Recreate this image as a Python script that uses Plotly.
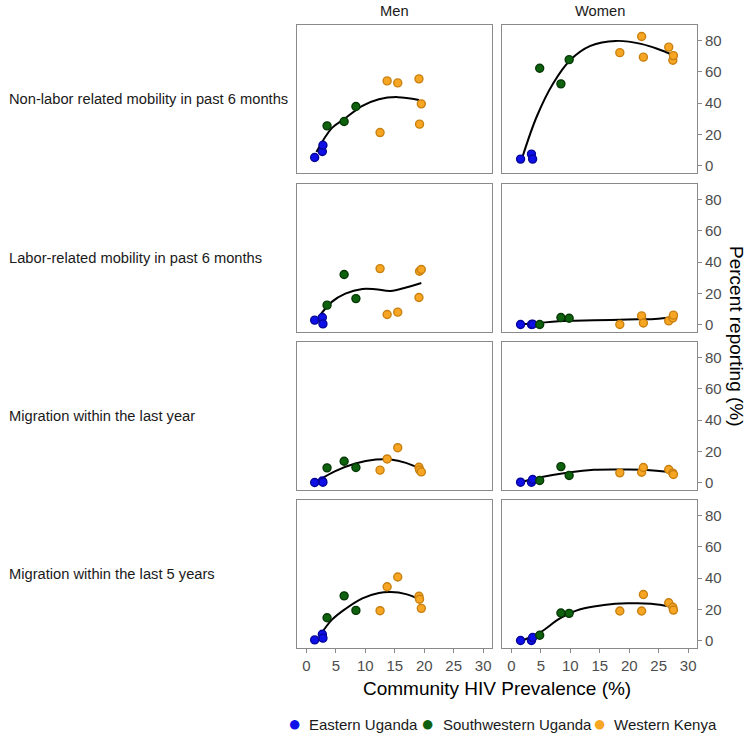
import plotly.graph_objects as go

# community prevalence (%) by sex and region
men_east_x = [1.4, 2.7, 2.8]
men_sw_x = [3.5, 6.4, 8.4]
men_wk_x = [12.5, 13.7, 15.5, 19.1, 19.2, 19.5]
women_east_x = [1.55, 3.4, 3.6]
women_sw_x = [4.8, 8.4, 9.8]
women_wk_x = [18.4, 22.1, 22.4, 26.7, 27.4, 27.5]

outcomes = ["Non-labor related mobility in past 6 months",
            "Labor-related mobility in past 6 months",
            "Migration within the last year",
            "Migration within the last 5 years"]
sexes = ["Men", "Women"]
regions = ["Eastern Uganda", "Southwestern Uganda", "Western Kenya"]

# percent reporting, one list per outcome / sex / region
nonlabor_men_east = [5.1, 9.0, 13.0]
nonlabor_men_sw = [25.4, 28.2, 37.8]
nonlabor_men_wk = [21.1, 54.2, 52.9, 55.5, 26.5, 39.5]
nonlabor_women_east = [4.1, 7.3, 4.1]
nonlabor_women_sw = [62.3, 52.3, 67.8]
nonlabor_women_wk = [72.3, 82.6, 69.4, 75.8, 67.4, 70.4]

labor_men_east = [2.8, 4.5, 0.4]
labor_men_sw = [12.4, 32.0, 16.6]
labor_men_wk = [35.8, 6.4, 7.9, 17.3, 34.1, 35.2]
labor_women_east = [0.0, 0.0, 0.2]
labor_women_sw = [0.0, 4.5, 4.0]
labor_women_wk = [0.0, 5.5, 1.0, 2.3, 4.2, 6.0]

mig1_men_east = [0.0, 1.0, 0.2]
mig1_men_sw = [9.4, 13.6, 9.6]
mig1_men_wk = [7.9, 15.1, 22.3, 9.8, 8.1, 6.8]
mig1_women_east = [0.2, 0.2, 1.9]
mig1_women_sw = [1.3, 10.2, 4.5]
mig1_women_wk = [6.2, 6.6, 9.6, 8.3, 6.0, 5.1]

mig5_men_east = [0.4, 4.0, 1.5]
mig5_men_sw = [14.6, 28.6, 19.3]
mig5_men_wk = [19.1, 34.4, 40.7, 28.3, 26.4, 20.6]
mig5_women_east = [0.0, 0.0, 1.9]
mig5_women_sw = [3.4, 17.6, 17.4]
mig5_women_wk = [18.9, 18.9, 29.5, 24.2, 21.3, 19.5]

# smoothed curves
nonlabor_men_fit_x = [1.7, 4.3, 6.6, 9.5, 12.3, 15.5, 19.1]
nonlabor_men_fit_y = [8.6, 23.9, 30.3, 38.2, 42.5, 43.8, 42.0]
nonlabor_women_fit_x = [1.9, 4.3, 7.1, 10.0, 13.4, 17.7, 22.0, 26.9, 27.5]
nonlabor_women_fit_y = [5.8, 31.4, 52.7, 67.6, 76.6, 79.8, 77.9, 71.5, 70.0]
labor_men_fit_x = [2.1, 4.3, 6.6, 9.5, 11.7, 14.3, 16.9, 19.5]
labor_men_fit_y = [4.9, 14.5, 19.8, 22.8, 22.6, 21.5, 23.7, 26.6]
labor_women_fit_x = [1.9, 4.5, 9.6, 14.0, 19.7, 24.3, 27.5]
labor_women_fit_y = [0.2, 1.0, 2.4, 2.7, 3.2, 3.6, 4.7]
mig1_men_fit_x = [2.3, 4.9, 8.3, 11.8, 14.3, 16.9, 19.3]
mig1_men_fit_y = [1.9, 7.3, 12.2, 14.7, 14.7, 12.6, 9.0]
mig1_women_fit_x = [1.9, 4.5, 10.0, 14.0, 18.6, 22.6, 27.5]
mig1_women_fit_y = [0.5, 3.0, 6.6, 8.1, 8.3, 8.1, 6.2]
mig5_men_fit_x = [2.3, 4.3, 6.6, 9.5, 12.3, 14.3, 16.9, 19.1]
mig5_men_fit_y = [3.2, 13.2, 20.2, 27.0, 30.4, 31.0, 29.7, 26.5]
mig5_women_fit_x = [1.9, 4.9, 8.3, 11.7, 15.7, 19.7, 23.7, 27.2]
mig5_women_fit_y = [0.0, 5.3, 14.3, 20.0, 22.7, 23.8, 23.6, 21.6]

x_ticks = [0, 5, 10, 15, 20, 25, 30]
y_ticks = [0, 20, 40, 60, 80]

xs = {"Men": [men_east_x, men_sw_x, men_wk_x],
      "Women": [women_east_x, women_sw_x, women_wk_x]}
ys = [
    {"Men": [nonlabor_men_east, nonlabor_men_sw, nonlabor_men_wk],
     "Women": [nonlabor_women_east, nonlabor_women_sw, nonlabor_women_wk]},
    {"Men": [labor_men_east, labor_men_sw, labor_men_wk],
     "Women": [labor_women_east, labor_women_sw, labor_women_wk]},
    {"Men": [mig1_men_east, mig1_men_sw, mig1_men_wk],
     "Women": [mig1_women_east, mig1_women_sw, mig1_women_wk]},
    {"Men": [mig5_men_east, mig5_men_sw, mig5_men_wk],
     "Women": [mig5_women_east, mig5_women_sw, mig5_women_wk]},
]
fits = [
    {"Men": (nonlabor_men_fit_x, nonlabor_men_fit_y),
     "Women": (nonlabor_women_fit_x, nonlabor_women_fit_y)},
    {"Men": (labor_men_fit_x, labor_men_fit_y),
     "Women": (labor_women_fit_x, labor_women_fit_y)},
    {"Men": (mig1_men_fit_x, mig1_men_fit_y),
     "Women": (mig1_women_fit_x, mig1_women_fit_y)},
    {"Men": (mig5_men_fit_x, mig5_men_fit_y),
     "Women": (mig5_women_fit_x, mig5_women_fit_y)},
]

fills = ["#0f0fe8", "#0e620e", "#f7a623"]
edges = ["#05059a", "#063806", "#c98010"]

W, H = 751, 739
col_px = [(297, 492), (502, 697)]
row_px = [(25, 173), (184, 332), (342, 490), (500, 648)]

fig = go.Figure()
layout = {}
annotations = []
grey = "#8a8a8a"
txt = "#1a1a1a"

for r in range(4):
    for c, sex in enumerate(sexes):
        n = r * 2 + c + 1
        xa, ya = "x%d" % n, "y%d" % n
        fx, fy = fits[r][sex]
        fig.add_trace(go.Scatter(x=fx, y=fy, mode="lines", xaxis=xa, yaxis=ya,
                                 line=dict(color="black", width=2, shape="spline"),
                                 showlegend=False, hoverinfo="skip"))
        for k, reg in enumerate(regions):
            fig.add_trace(go.Scatter(
                x=xs[sex][k], y=ys[r][sex][k], mode="markers", xaxis=xa, yaxis=ya,
                name=reg, legendgroup=reg, showlegend=False,
                marker=dict(size=8, color=fills[k], line=dict(color=edges[k], width=1.4))))
        bottom = r == 3
        layout["xaxis%d" % n] = dict(
            domain=[col_px[c][0] / W, col_px[c][1] / W], anchor=ya,
            range=[-1.6, 31.5], showgrid=False, zeroline=False,
            showline=True, mirror=True, linecolor=grey, linewidth=1,
            ticks="outside" if bottom else "", ticklen=4, tickcolor=grey,
            tickvals=x_ticks, showticklabels=bottom,
            tickfont=dict(size=15, color="#4d4d4d"))
        right = c == 1
        layout["yaxis%d" % n] = dict(
            domain=[1 - row_px[r][1] / H, 1 - row_px[r][0] / H], anchor=xa,
            range=[-4.8, 90], showgrid=False, zeroline=False,
            showline=True, mirror=True, linecolor=grey, linewidth=1,
            side="right" if right else "left",
            ticks="outside" if right else "", ticklen=4, tickcolor=grey,
            tickvals=y_ticks, showticklabels=right,
            tickfont=dict(size=15, color="#4d4d4d"))


def note(text, x, y, size, color=txt, xanchor="center", **kw):
    annotations.append(dict(text=text, x=x / W, y=1 - y / H, xref="paper", yref="paper",
                            xanchor=xanchor, yanchor="middle", showarrow=False,
                            font=dict(size=size, color=color), **kw))


for c, sex in enumerate(sexes):
    note(sex, (col_px[c][0] + col_px[c][1]) / 2, 11, 14.7)
for r, lab in enumerate(outcomes):
    note(lab, 7, (row_px[r][0] + row_px[r][1]) / 2, 14.7, xanchor="left")
note("Percent reporting (%)", 737, 336, 19, color="black", textangle=90)
note("Community HIV Prevalence (%)", 497, 688, 19, color="black")

# legend row at the bottom
legend_dot_px = [294, 428, 599]
for k, reg in enumerate(regions):
    note("\u25cf", legend_dot_px[k], 723, 22, color=fills[k])
    note(reg, legend_dot_px[k] + 13, 724, 15, xanchor="left")

fig.update_layout(
    width=W, height=H, margin=dict(l=0, r=0, t=0, b=0),
    paper_bgcolor="white", plot_bgcolor="white",
    font=dict(family="Liberation Sans, Arial, sans-serif"),
    annotations=annotations, showlegend=False,
    **layout)

fig.write_html("out.html", config={"displayModeBar": False},
               post_script="document.body.style.margin='0';")
